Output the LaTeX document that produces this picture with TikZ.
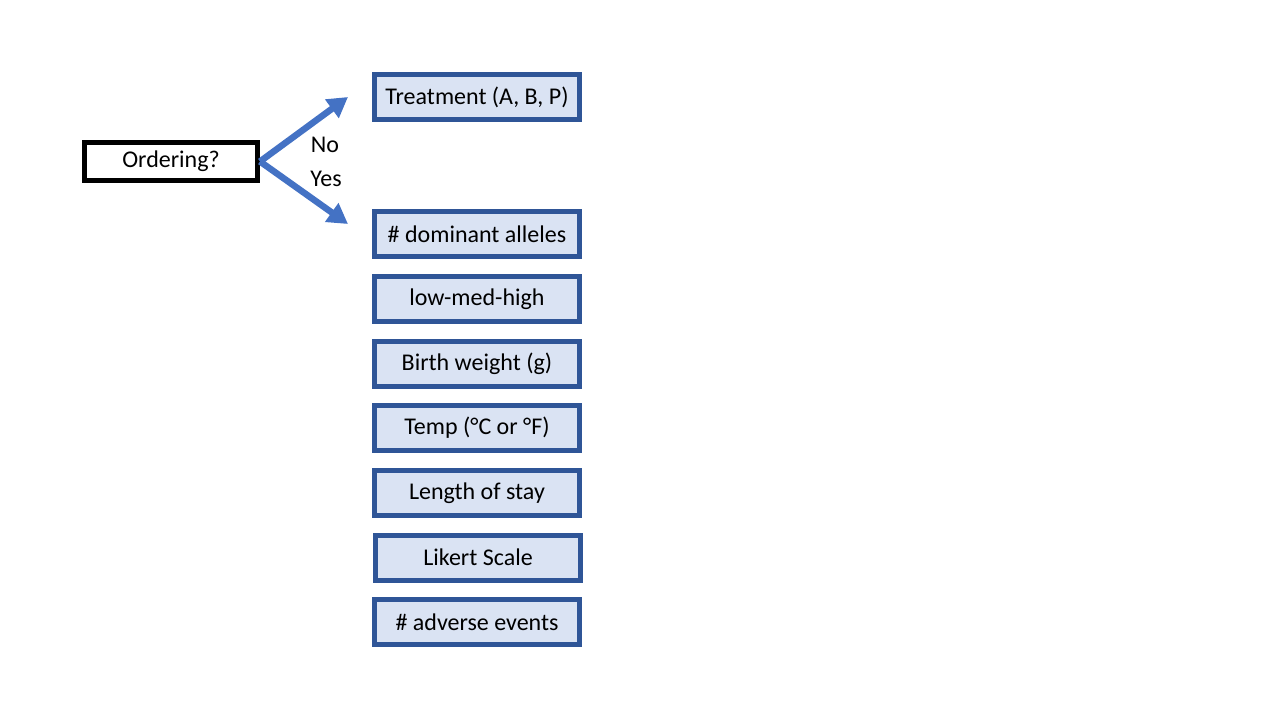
\documentclass[tikz,border=0pt]{standalone}
\usepackage{fontspec}
\setmainfont{Carlito}
\usetikzlibrary{arrows.meta}
\definecolor{boxfill}{HTML}{DAE3F3}
\definecolor{boxline}{HTML}{2F5597}
\definecolor{arrowblue}{HTML}{4472C4}
\begin{document}
\begin{tikzpicture}[x=1pt,y=-1pt,
  catbox/.style={draw=boxline, fill=boxfill, line width=5pt, minimum width=205pt, minimum height=45pt, inner sep=0pt, font=\fontsize{24}{28}\selectfont},
  qbox/.style={draw=black, fill=white, line width=5pt, minimum width=173pt, minimum height=38pt, inner sep=0pt, font=\fontsize{24}{28}\selectfont},
  branch/.style={draw=arrowblue, line width=6.5pt, -{Triangle[length=20pt,width=22pt]}},
  lab/.style={font=\fontsize{24}{28}\selectfont, inner sep=0pt}]
\useasboundingbox (0,0) rectangle (1280,720);
\node[qbox] (q) at (171,161.5) {Ordering?};
\node[catbox] (t) at (477,97) {Treatment (A, B, P)};
\node[catbox] (d) at (477,234) {\# dominant alleles};
\node[catbox] (l) at (477,299) {low-med-high};
\node[catbox] (b) at (477,363.5) {Birth weight (g)};
\node[catbox] (tp) at (477,428) {Temp (°C or °F)};
\node[catbox] (s) at (477,493) {Length of stay};
\node[catbox] (k) at (478,557.5) {Likert Scale};
\node[catbox] (a) at (477,622) {\# adverse events};
\coordinate (noend) at (348,97);
\coordinate (yesend) at (348,224);
\draw[branch] (q.east) -- (noend);
\draw[branch] (q.east) -- (yesend);
\node[lab] (no) at (325,145) {No};
\node[lab] (yes) at (326,179) {Yes};
\end{tikzpicture}
\end{document}
